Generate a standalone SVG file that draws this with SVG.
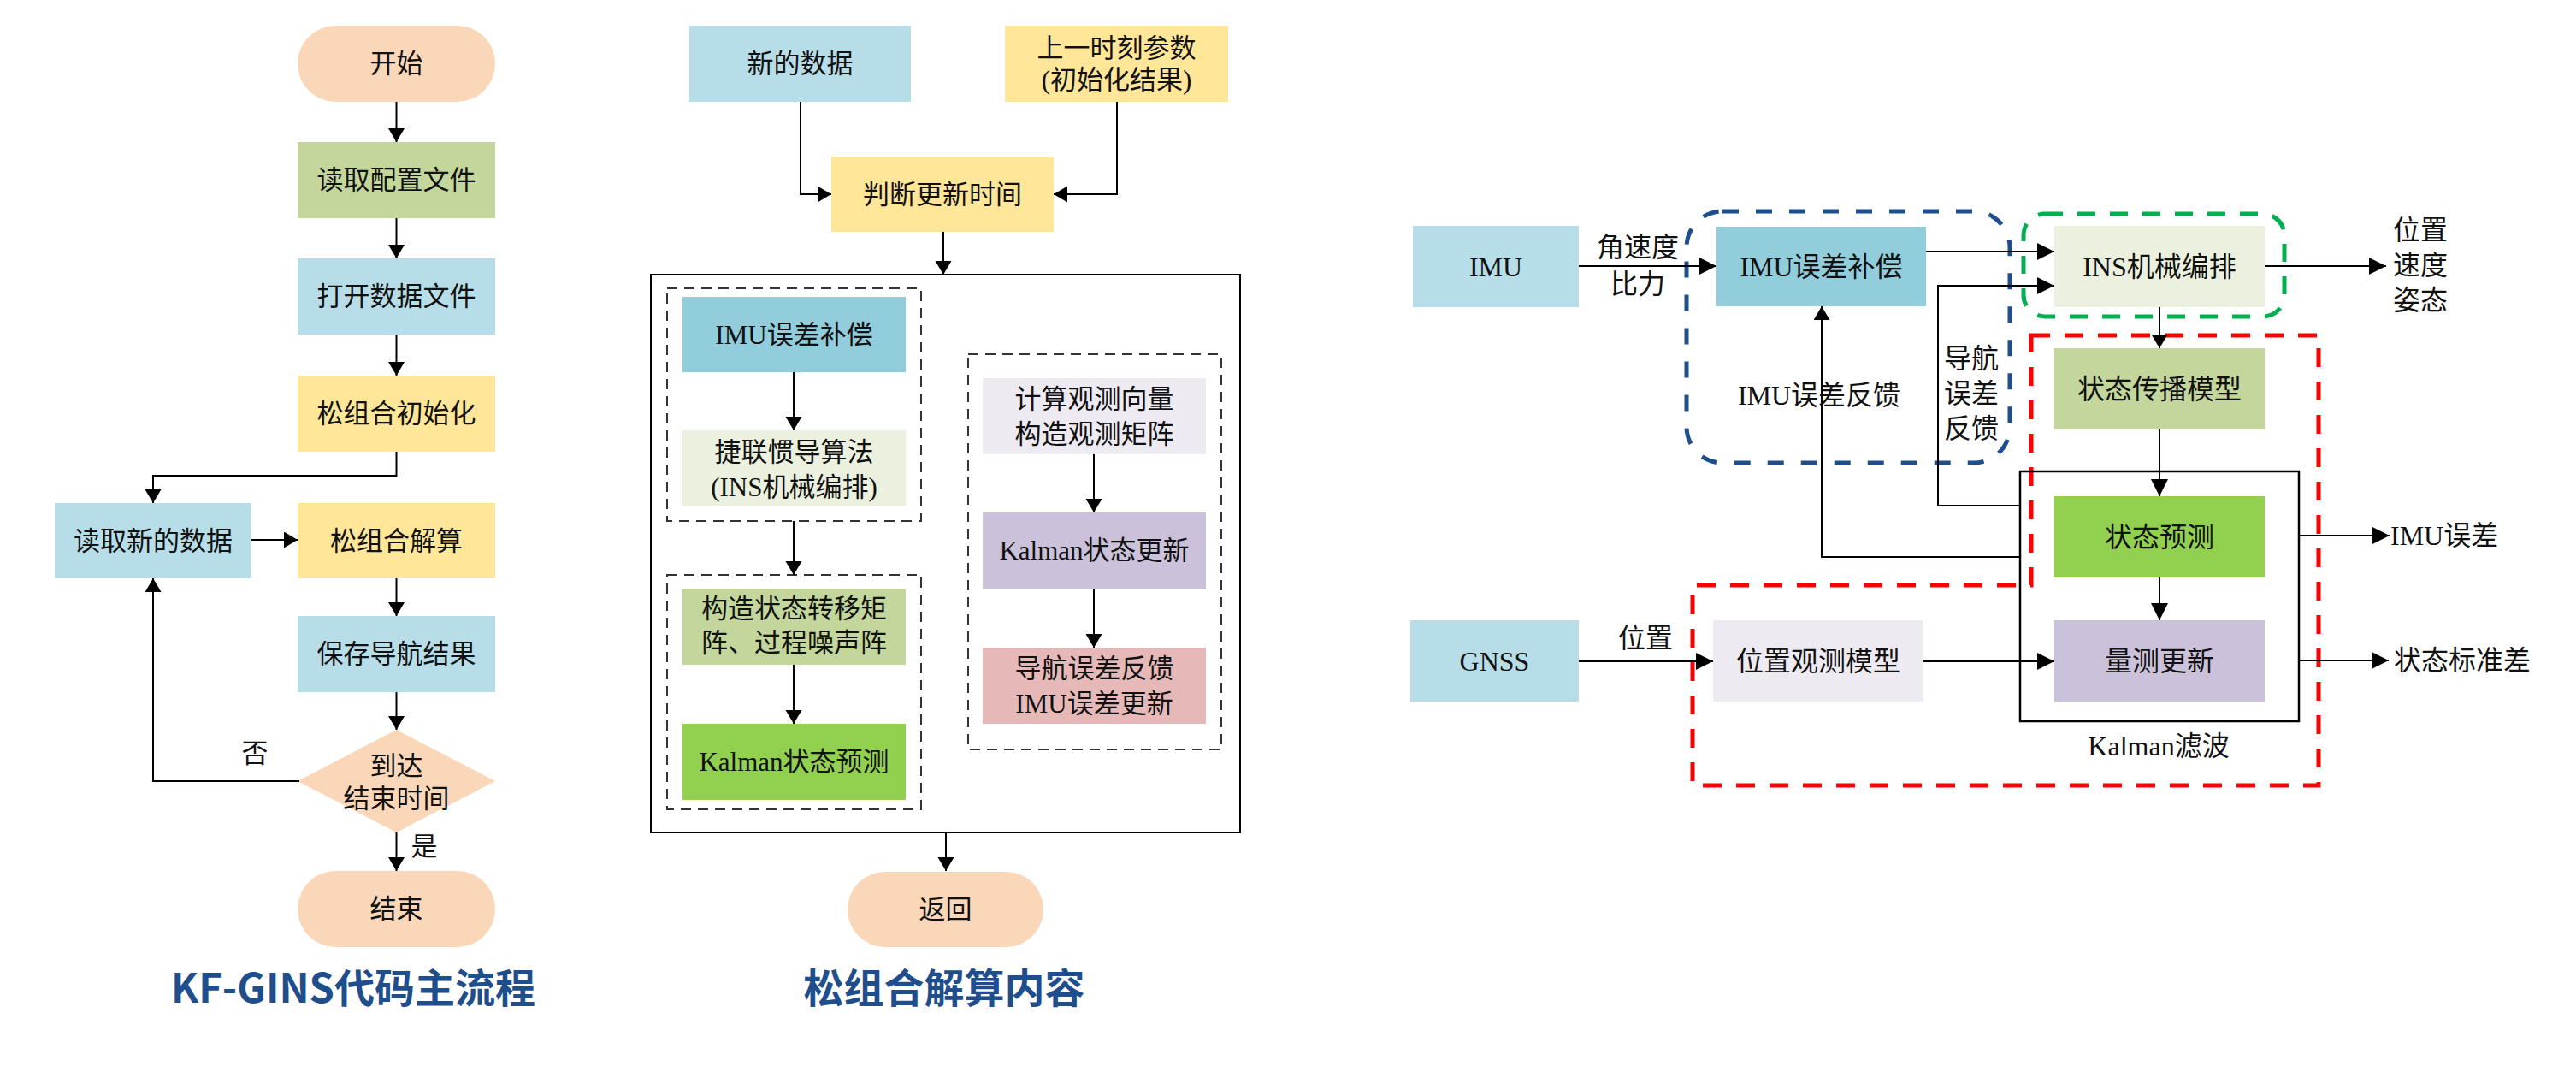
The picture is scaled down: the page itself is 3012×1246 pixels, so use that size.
<svg xmlns="http://www.w3.org/2000/svg" width="3012" height="1246" viewBox="0 0 3012 1246">
<style>
.t{font-family:"Liberation Serif","Noto Sans CJK SC",serif;font-size:31px;fill:#111;text-anchor:middle;dominant-baseline:central}
.r{font-size:32px}
.s{text-anchor:start}
.ttl{font-family:"Noto Sans CJK SC","Noto Sans",sans-serif;font-weight:bold;font-size:47px;fill:#1F4E8C;text-anchor:middle}
.ln{fill:none;stroke:#000;stroke-width:2}
.la{fill:none;stroke:#000;stroke-width:2;marker-end:url(#aL)}
.ra{fill:none;stroke:#000;stroke-width:2;marker-end:url(#aR)}
.dk{fill:none;stroke:#333;stroke-width:2;stroke-dasharray:12 8}
.pk{fill:#FBD7B9}
.gr{fill:#C3D69B}
.bl{fill:#B7DEE8}
.ye{fill:#FFE699}
.cy{fill:#92CDDC}
.lg{fill:#EBF1DE}
.lv{fill:#EDEAF2}
.pu{fill:#CCC1DA}
.rd{fill:#E6B9B8}
.bg{fill:#92D050}
</style>
<defs>
<marker id="aL" markerUnits="userSpaceOnUse" markerWidth="18" markerHeight="20" refX="16" refY="9.5" orient="auto"><path d="M0,0 L16,9.5 L0,19 z" fill="#000"/></marker>
<marker id="aR" markerUnits="userSpaceOnUse" markerWidth="22" markerHeight="22" refX="20" refY="10" orient="auto"><path d="M0,0 L20,10 L0,20 z" fill="#000"/></marker>
</defs>
<rect width="3012" height="1246" fill="#fff"/>

<!-- Diagram 1 -->
<g id="start"><rect class="pk" x="348" y="30" width="231" height="89" rx="44.5"/><text class="t" x="463.5" y="74.5">开始</text></g>
<g id="readcfg"><rect class="gr" x="348" y="166" width="231" height="89"/><text class="t" x="463.5" y="210.5">读取配置文件</text></g>
<g id="opendata"><rect class="bl" x="348" y="302" width="231" height="89"/><text class="t" x="463.5" y="346.5">打开数据文件</text></g>
<g id="init"><rect class="ye" x="348" y="439" width="231" height="89"/><text class="t" x="463.5" y="483.5">松组合初始化</text></g>
<g id="readnew"><rect class="bl" x="64" y="588" width="230" height="88"/><text class="t" x="179" y="632">读取新的数据</text></g>
<g id="solve"><rect class="ye" x="348" y="588" width="231" height="88"/><text class="t" x="463.5" y="632">松组合解算</text></g>
<g id="save"><rect class="bl" x="348" y="720" width="231" height="89"/><text class="t" x="463.5" y="764.5">保存导航结果</text></g>
<g id="decide"><polygon class="pk" points="463.5,853 579,913 463.5,973 348,913"/><text class="t" x="463.5" y="895">到达</text><text class="t" x="463.5" y="933">结束时间</text></g>
<g id="end"><rect class="pk" x="348" y="1018" width="231" height="89" rx="44.5"/><text class="t" x="463.5" y="1062.5">结束</text></g>
<text class="ttl" x="413" y="1172">KF-GINS代码主流程</text>

<!-- Diagram 2 -->
<g id="newdata"><rect class="bl" x="806" y="30" width="259" height="89"/><text class="t" x="935.5" y="74.5">新的数据</text></g>
<g id="lastparam"><rect class="ye" x="1175" y="30" width="261" height="89"/><text class="t" x="1305.5" y="56">上一时刻参数</text><text class="t" x="1305.5" y="93">(初始化结果)</text></g>
<g id="judge"><rect class="ye" x="972" y="183" width="260" height="88"/><text class="t" x="1102" y="227">判断更新时间</text></g>
<g id="solvebox"><rect x="761" y="321" width="689" height="652" fill="none" stroke="#000" stroke-width="2"/></g>
<g id="grp1"><rect class="dk" x="780" y="337" width="297" height="272"/></g>
<g id="imucomp1"><rect class="cy" x="798" y="347" width="261" height="88"/><text class="t" x="928.5" y="391">IMU误差补偿</text></g>
<g id="sins"><rect class="lg" x="798" y="503" width="261" height="89"/><text class="t" x="928.5" y="528">捷联惯导算法</text><text class="t" x="928.5" y="569">(INS机械编排)</text></g>
<g id="grp2"><rect class="dk" x="780" y="672" width="297" height="274"/></g>
<g id="buildF"><rect class="gr" x="798" y="688" width="261" height="89"/><text class="t" x="928.5" y="711">构造状态转移矩</text><text class="t" x="928.5" y="751">阵、过程噪声阵</text></g>
<g id="kpred"><rect class="bg" x="798" y="846" width="261" height="89"/><text class="t" x="928.5" y="890.5">Kalman状态预测</text></g>
<g id="grp3"><rect class="dk" x="1132" y="414" width="296" height="462"/></g>
<g id="obs"><rect class="lv" x="1149" y="442" width="261" height="89"/><text class="t" x="1279.5" y="466">计算观测向量</text><text class="t" x="1279.5" y="507">构造观测矩阵</text></g>
<g id="kupd"><rect class="pu" x="1149" y="599" width="261" height="89"/><text class="t" x="1279.5" y="643.5">Kalman状态更新</text></g>
<g id="feedback"><rect class="rd" x="1149" y="757" width="261" height="89"/><text class="t" x="1279.5" y="781">导航误差反馈</text><text class="t" x="1279.5" y="822">IMU误差更新</text></g>
<g id="ret"><rect class="pk" x="991" y="1019" width="229" height="88" rx="44"/><text class="t" x="1105.5" y="1063">返回</text></g>
<text class="ttl" x="1104" y="1172">松组合解算内容</text>

<!-- Diagram 3 -->
<g id="blueZone"><rect x="1972" y="247" width="378" height="294" rx="42" fill="none" stroke="#1F4E8C" stroke-width="5" stroke-dasharray="19 20"/></g>
<g id="greenZone"><rect x="2366" y="250" width="305" height="120" rx="25" fill="none" stroke="#00B050" stroke-width="5" stroke-dasharray="21 17"/></g>
<g id="redZone"><path d="M2375,392 L2711,392 L2711,918 L1979,918 L1979,684 L2375,684 Z" fill="none" stroke="#FF0000" stroke-width="5" stroke-dasharray="22 17"/></g>
<g id="imu"><rect class="bl" x="1652" y="264" width="194" height="95"/><text class="t r" x="1749" y="311.5">IMU</text></g>
<g id="imucomp"><rect class="cy" x="2007" y="265" width="245" height="93"/><text class="t r" x="2129.5" y="311.5">IMU误差补偿</text></g>
<g id="ins"><rect class="lg" x="2402" y="264" width="246" height="95"/><text class="t r" x="2525" y="311.5">INS机械编排</text></g>
<g id="propmodel"><rect class="gr" x="2402" y="407" width="246" height="95"/><text class="t r" x="2525" y="454.5">状态传播模型</text></g>
<g id="kalman"><rect x="2362" y="551" width="326" height="292" fill="none" stroke="#000" stroke-width="2.5"/><text class="t r" x="2524" y="872">Kalman滤波</text></g>
<g id="statepred"><rect class="bg" x="2402" y="580" width="246" height="95"/><text class="t r" x="2525" y="627.5">状态预测</text></g>
<g id="measupd"><rect class="pu" x="2402" y="725" width="246" height="95"/><text class="t r" x="2525" y="772.5">量测更新</text></g>
<g id="gnss"><rect class="bl" x="1649" y="725" width="197" height="95"/><text class="t r" x="1747.5" y="772.5">GNSS</text></g>
<g id="posobs"><rect class="lv" x="2003" y="725" width="246" height="95"/><text class="t r" x="2126" y="772.5">位置观测模型</text></g>

<g id="connectors">
<path class="la" d="M463.5,119 V166"/>
<path class="la" d="M463.5,255 V302"/>
<path class="la" d="M463.5,391 V439"/>
<path class="la" d="M463.5,528 V556 H179 V588"/>
<path class="la" d="M294,631 H348"/>
<path class="la" d="M463.5,676 V720"/>
<path class="la" d="M463.5,809 V853"/>
<path class="la" d="M350,913 H179 V676"/>
<path class="la" d="M463.5,973 V1018"/>
<path class="la" d="M936,119 V227 H972"/>
<path class="la" d="M1306,119 V227 H1232"/>
<path class="la" d="M1103,271 V321"/>
<path class="la" d="M928,435 V503"/>
<path class="la" d="M928,609 V672"/>
<path class="la" d="M928,777 V846"/>
<path class="la" d="M1279,531 V599"/>
<path class="la" d="M1279,688 V757"/>
<path class="la" d="M1106,973 V1018"/>
<path class="ra" d="M1846,311 H2007"/>
<path class="ra" d="M2252,294 H2402"/>
<path class="ra" d="M2362,591 H2266 V334 H2402"/>
<path class="la" d="M2362,651 H2130 V358"/>
<path class="ra" d="M2648,311 H2790"/>
<path class="la" d="M2525,359 V407"/>
<path class="ra" d="M2525,502 V580"/>
<path class="ra" d="M2525,675 V725"/>
<path class="ra" d="M1846,773 H2003"/>
<path class="ra" d="M2249,773 H2402"/>
<path class="ra" d="M2688,626 H2794"/>
<path class="ra" d="M2688,772 H2793"/>
</g>

<g id="labels">
<text class="t" x="298" y="880">否</text>
<text class="t" x="496" y="989">是</text>
<text class="t r" x="1915" y="289">角速度</text>
<text class="t r" x="1915" y="332">比力</text>
<text class="t r" x="2127" y="462">IMU误差反馈</text>
<text class="t r" x="2305" y="419">导航</text>
<text class="t r" x="2305" y="460">误差</text>
<text class="t r" x="2305" y="501">反馈</text>
<text class="t r" x="2830" y="269">位置</text>
<text class="t r" x="2830" y="310">速度</text>
<text class="t r" x="2830" y="351">姿态</text>
<text class="t r s" x="2795" y="626">IMU误差</text>
<text class="t r s" x="2799" y="772">状态标准差</text>
<text class="t r" x="1924" y="746">位置</text>
</g>
</svg>
